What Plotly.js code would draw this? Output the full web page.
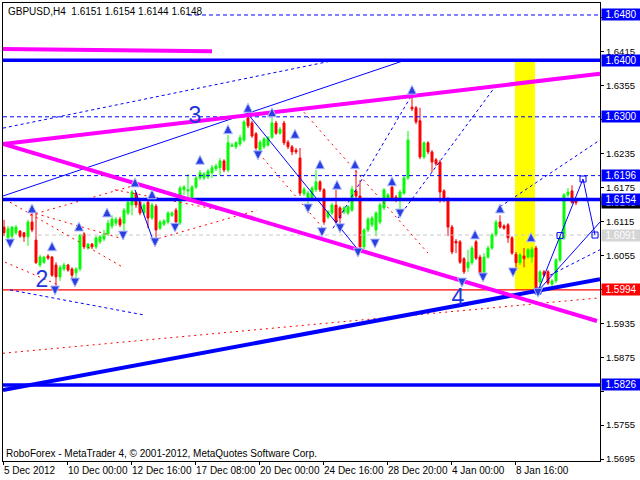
<!DOCTYPE html>
<html>
<head>
<meta charset="utf-8">
<script src="https://cdn.plot.ly/plotly-3.0.1.min.js"></script>
<style>html,body{margin:0;padding:0;background:#fff}#chart{width:640px;height:480px}</style>
</head>
<body>
<div id="chart"></div>
<script>
// GBPUSD H4 bars, oldest first
const barOpen = [
1.6105,1.6086,1.6089,1.6095,1.6098,1.6095,1.6088,1.6114,1.6082,1.6038,
1.6043,1.6054,1.6052,1.6038,1.6017,1.6031,1.6038,1.6031,1.6024,1.6031,
1.6093,1.6068,1.6075,1.6070,1.6079,1.6084,1.6093,1.6107,1.6112,1.6119,
1.6112,1.6130,1.6144,1.6165,1.6149,1.6130,1.6149,1.6121,1.6142,1.6103,
1.6110,1.6114,1.6126,1.6135,1.6112,1.6171,1.6169,1.6158,1.6176,1.6192,
1.6192,1.6194,1.6201,1.6208,1.6210,1.6222,1.6206,1.6248,1.6247,1.6252,
1.6259,1.6298,1.6289,1.6270,1.6241,1.6247,1.6250,1.6264,1.6289,1.6271,
1.6289,1.6255,1.6247,1.6241,1.6227,1.6164,1.6155,1.6156,1.6171,1.6185,
1.6171,1.6123,1.6130,1.6144,1.6139,1.6132,1.6130,1.6135,1.6169,1.6160,
1.6070,1.6100,1.6109,1.6100,1.6114,1.6139,1.6156,1.6176,1.6158,1.6153,
1.6165,1.6192,1.6317,1.6316,1.6293,1.6229,1.6254,1.6238,1.6224,1.6220,
1.6169,1.6155,1.6105,1.6080,1.6079,1.6049,1.6033,1.6042,1.6079,1.6052,
1.6024,1.6052,1.6068,1.6091,1.6114,1.6107,1.6109,1.6086,1.6057,1.6042,
1.6054,1.6052,1.6052,1.6068,1.6008,1.6026,1.6026,1.6004,1.6010,1.6047,
1.6086,1.6162,1.6169,1.6151];
const barHigh = [
1.6118,1.6107,1.6107,1.6109,1.6100,1.6096,1.6118,1.6130,1.6132,1.6056,
1.6054,1.6057,1.6054,1.6043,1.6038,1.6042,1.6040,1.6034,1.6034,1.6093,
1.6096,1.6077,1.6077,1.6089,1.6091,1.6100,1.6118,1.6126,1.6123,1.6123,
1.6139,1.6153,1.6171,1.6167,1.6153,1.6148,1.6156,1.6148,1.6146,1.6118,
1.6119,1.6133,1.6133,1.6139,1.6178,1.6179,1.6199,1.6179,1.6195,1.6206,
1.6202,1.6208,1.6215,1.6217,1.6227,1.6225,1.6268,1.6254,1.6257,1.6268,
1.6294,1.6310,1.6293,1.6273,1.6259,1.6264,1.6266,1.6298,1.6293,1.6282,
1.6293,1.6259,1.6250,1.6245,1.6245,1.6176,1.6169,1.6178,1.6206,1.6188,
1.6174,1.6135,1.6148,1.6171,1.6142,1.6142,1.6144,1.6178,1.6206,1.6188,
1.6103,1.6123,1.6125,1.6133,1.6148,1.6174,1.6165,1.6179,1.6162,1.6171,
1.6195,1.6275,1.6337,1.6319,1.6316,1.6257,1.6257,1.6241,1.6227,1.6224,
1.6172,1.6158,1.6109,1.6084,1.6082,1.6052,1.6065,1.6072,1.6082,1.6056,
1.6059,1.6072,1.6095,1.6118,1.6126,1.6110,1.6112,1.6089,1.6061,1.6059,
1.6068,1.6068,1.6070,1.6072,1.6029,1.6029,1.6029,1.6013,1.6050,1.6089,
1.6165,1.6174,1.6179,1.6154];
const barLow = [
1.6089,1.6080,1.6082,1.6091,1.6086,1.6079,1.6072,1.6096,1.6040,1.6034,
1.6040,1.6047,1.6017,1.5999,1.6010,1.6027,1.6026,1.6015,1.6011,1.6027,
1.6066,1.6065,1.6066,1.6066,1.6075,1.6080,1.6089,1.6102,1.6107,1.6105,
1.6095,1.6126,1.6126,1.6139,1.6126,1.6126,1.6103,1.6118,1.6080,1.6100,
1.6107,1.6110,1.6123,1.6110,1.6109,1.6162,1.6158,1.6155,1.6172,1.6188,
1.6188,1.6190,1.6192,1.6204,1.6197,1.6202,1.6202,1.6247,1.6243,1.6248,
1.6255,1.6280,1.6263,1.6241,1.6238,1.6243,1.6247,1.6261,1.6268,1.6268,
1.6250,1.6243,1.6232,1.6234,1.6160,1.6160,1.6141,1.6153,1.6167,1.6167,
1.6109,1.6119,1.6126,1.6110,1.6109,1.6128,1.6126,1.6132,1.6156,1.6066,
1.6066,1.6096,1.6105,1.6089,1.6110,1.6135,1.6153,1.6153,1.6149,1.6132,
1.6162,1.6188,1.6310,1.6287,1.6225,1.6225,1.6234,1.6202,1.6213,1.6148,
1.6149,1.6089,1.6057,1.6059,1.6040,1.6022,1.6026,1.6038,1.6047,1.6020,
1.6020,1.6049,1.6065,1.6088,1.6102,1.6100,1.6077,1.6056,1.6029,1.6038,
1.6034,1.6049,1.6042,1.5994,1.5994,1.6017,1.6003,1.6001,1.6006,1.6043,
1.6082,1.6158,1.6146,1.6144];
const barClose = [
1.6095,1.6102,1.6105,1.6105,1.6089,1.6088,1.6114,1.6100,1.6042,1.6052,
1.6052,1.6050,1.6020,1.6017,1.6034,1.6038,1.6029,1.6020,1.6031,1.6091,
1.6070,1.6075,1.6070,1.6086,1.6088,1.6093,1.6112,1.6119,1.6119,1.6109,
1.6135,1.6149,1.6167,1.6144,1.6130,1.6144,1.6121,1.6144,1.6100,1.6114,
1.6116,1.6130,1.6130,1.6114,1.6174,1.6176,1.6171,1.6176,1.6192,1.6201,
1.6199,1.6204,1.6210,1.6213,1.6222,1.6206,1.6254,1.6250,1.6254,1.6263,
1.6291,1.6284,1.6266,1.6245,1.6255,1.6261,1.6263,1.6289,1.6271,1.6278,
1.6254,1.6247,1.6238,1.6238,1.6165,1.6172,1.6165,1.6174,1.6185,1.6171,
1.6114,1.6132,1.6144,1.6114,1.6121,1.6139,1.6141,1.6172,1.6160,1.6070,
1.6100,1.6119,1.6121,1.6130,1.6144,1.6171,1.6162,1.6156,1.6153,1.6167,
1.6192,1.6259,1.6314,1.6291,1.6229,1.6254,1.6238,1.6220,1.6217,1.6167,
1.6153,1.6105,1.6061,1.6077,1.6043,1.6026,1.6043,1.6068,1.6050,1.6024,
1.6052,1.6068,1.6091,1.6114,1.6105,1.6103,1.6086,1.6059,1.6042,1.6056,
1.6049,1.6065,1.6066,1.5997,1.6026,1.6020,1.6006,1.6010,1.6047,1.6086,
1.6162,1.6167,1.6149,1.6148];

// time axis: one label every 16 bars
const timeTickBars = [-0.25, 15.75, 31.75, 47.75, 63.75, 79.75, 95.75, 111.75, 127.75];
const timeTickText = ['5 Dec 2012','10 Dec 00:00','12 Dec 16:00','17 Dec 08:00','20 Dec 00:00',
                      '24 Dec 16:00','28 Dec 20:00','4 Jan 00:00','8 Jan 16:00'];
const priceTicks = [1.5695,1.5755,1.5815,1.5875,1.5935,1.5995,1.6055,1.6115,1.6175,1.6235,1.6295,1.6355,1.6415,1.6475];

// horizontal levels
const thickLevels = [1.6400, 1.6154, 1.5826];
const dashedLevels = [1.6300, 1.6196];
const topLevel = 1.6480;
const greyLevel = 1.6091;
const redLevel = 1.5994;

// trend lines [bar0, price0, bar1, price1]
const magentaLines = [
  [-0.25, 1.6252, 149, 1.6376],
  [-0.25, 1.6252, 148.25, 1.5939],
  [-0.25, 1.6420, 52, 1.6416]];
const blueThickLines = [[-0.25, 1.5817, 149, 1.6013]];
const blueThinLines = [
  [-0.25, 1.6160, 100.25, 1.6400],
  [60.75, 1.6307, 88.5, 1.6065],
  [32.75, 1.6171, 37.25, 1.6082],
  [133.5, 1.5992, 149, 1.6114]];
const blueDashLines = [
  [-0.25, 1.6280, 82.75, 1.6400],
  [82.25, 1.6103, 102, 1.6339],
  [98.5, 1.6121, 122.75, 1.6353],
  [124, 1.6141, 149, 1.6259],
  [136.5, 1.6020, 149, 1.6065],
  [1.5, 1.5994, 34.75, 1.5950]];
const redDashLines = [
  [-0.25, 1.5882, 149, 1.5980],
  [1.5, 1.6149, 29.75, 1.6034],
  [6.5, 1.6132, 30.75, 1.6082],
  [0.25, 1.6043, 13.5, 1.6003],
  [6.5, 1.6126, 32.75, 1.6179],
  [37.25, 1.6082, 63.25, 1.6135],
  [27.75, 1.6171, 62.75, 1.6123],
  [74, 1.6316, 106, 1.6059],
  [64.75, 1.6227, 79.75, 1.6103]];

// projected wave path
const waveBars = [133.5, 139, 144.75, 147.75];
const wavePrices = [1.5992, 1.6090, 1.6190, 1.6091];

// fractal arrows
const upBars = [7,12,18.75,25.75,32.75,37,49,56,61,67,72.75,79,83.25,87.75,97,102,117.75,124,131.75];
const upPrices = [1.6146,1.6079,1.6114,1.6139,1.6192,1.6171,1.6232,1.6286,1.6324,1.6316,1.6278,1.6224,1.6188,1.6224,1.6194,1.6356,1.6100,1.6146,1.6095];
const downBars = [1.5,12.75,17.75,29.75,37.75,42.75,63.5,76,79.5,84,88.5,92.75,99,114.5,119.75,127.25,133.5];
const downPrices = [1.6068,1.5985,1.5999,1.6082,1.6070,1.6096,1.6224,1.6130,1.6088,1.6095,1.6052,1.6068,1.6121,1.5999,1.6008,1.6017,1.5981];

// wave labels
const waveLabels = ['3', '2', '4'];
const waveLabelBars = [47.75, 9.5, 113.5];
const waveLabelPrices = [1.6300, 1.6010, 1.5978];

// highlighted zone
const zoneBars = [127.75, 132.75];
const zonePrices = [1.5994, 1.6400];

const xMin = -0.25, xMax = 149;
const BLUE = '#0000ff', MAGENTA = '#ff00ff', RED = '#ff0000';
const FONT = 'Liberation Sans, Arial, sans-serif';

const traces = [];
traces.push({
  type: 'candlestick',
  x: barOpen.map((_, i) => i),
  open: barOpen, high: barHigh, low: barLow, close: barClose,
  increasing: {line: {color: '#00ff00', width: 1}, fillcolor: '#00ff00'},
  decreasing: {line: {color: '#ff0000', width: 1}, fillcolor: '#ff0000'},
  whiskerwidth: 0,
  hoverinfo: 'skip'
});

function seg(list, color, width, dash) {
  list.forEach(s => traces.push({
    type: 'scatter', mode: 'lines', x: [s[0], s[2]], y: [s[1], s[3]],
    line: {color: color, width: width, dash: dash || 'solid'}, hoverinfo: 'skip'
  }));
}
function level(y, color, width, dash, x0) {
  traces.push({type: 'scatter', mode: 'lines', x: [x0 === undefined ? xMin : x0, xMax], y: [y, y],
    line: {color: color, width: width, dash: dash || 'solid'}, hoverinfo: 'skip'});
}

level(greyLevel, '#c8c8c8', 1, '4px,3px', 8.5);
level(topLevel, BLUE, 1, '4px,3px', 46);
dashedLevels.forEach(v => level(v, BLUE, 1, '4px,3px'));
level(redLevel, RED, 1.2);
seg(redDashLines, RED, 1, '2px,4px');
seg(blueDashLines, BLUE, 1, '3px,3px');
seg(blueThinLines, BLUE, 1);
traces.push({type: 'scatter', mode: 'lines+markers', x: waveBars, y: wavePrices,
  line: {color: BLUE, width: 1}, marker: {symbol: 'square-open', size: 6, color: BLUE, line: {width: 1}},
  hoverinfo: 'skip'});
thickLevels.forEach(v => level(v, BLUE, 3.5));
seg(blueThickLines, BLUE, 4);
seg(magentaLines, MAGENTA, 4);

traces.push({type: 'scatter', mode: 'markers', x: upBars, y: upPrices,
  marker: {symbol: 'arrow-up', size: 9, color: '#2a3fe0', line: {color: '#b4c0ff', width: 1}},
  hoverinfo: 'skip'});
traces.push({type: 'scatter', mode: 'markers', x: downBars, y: downPrices,
  marker: {symbol: 'arrow-down', size: 9, color: '#2a3fe0', line: {color: '#b4c0ff', width: 1}},
  hoverinfo: 'skip'});
traces.push({type: 'scatter', mode: 'text', x: waveLabelBars, y: waveLabelPrices, text: waveLabels,
  textfont: {family: FONT, size: 23, color: '#1f35d8'}, textposition: 'middle center', hoverinfo: 'skip'});

// price tags on the right edge
const tags = [
  [1.6148, '#000000', '#ffffff'],
  [1.6480, BLUE, '#ffffff'],
  [1.6400, BLUE, '#ffffff'],
  [1.6300, BLUE, '#ffffff'],
  [1.6196, BLUE, '#ffffff'],
  [1.6154, BLUE, '#ffffff'],
  [1.6091, '#d4d4d4', '#ffffff'],
  [1.5994, RED, '#ffffff'],
  [1.5826, BLUE, '#ffffff']];
// tick labels that sit underneath a price tag are left blank
const hiddenTicks = [1.6475, 1.6295, 1.5995, 1.5815];

const annotations = tags.map(t => ({
  xref: 'paper', yref: 'y', x: 1, y: t[0], xanchor: 'left', yanchor: 'middle', xshift: 1,
  text: t[0].toFixed(4), showarrow: false, bgcolor: t[1], borderpad: 1, width: 36, height: 9,
  font: {family: FONT, size: 10, color: t[2]}
}));
timeTickBars.forEach((b, i) => annotations.push({
  xref: 'x', yref: 'paper', x: b, y: 0, xanchor: 'left', yanchor: 'top', yshift: -2, xshift: -1,
  text: timeTickText[i], showarrow: false, font: {family: FONT, size: 10, color: '#000'}
}));
annotations.push({xref: 'paper', yref: 'paper', x: 0, y: 1, xanchor: 'left', yanchor: 'top',
  xshift: 3, yshift: -1, showarrow: false, text: 'GBPUSD,H4  1.6151 1.6154 1.6144 1.6148',
  font: {family: FONT, size: 10, color: '#000'}});
annotations.push({xref: 'paper', yref: 'paper', x: 0, y: 0, xanchor: 'left', yanchor: 'bottom',
  xshift: 1, yshift: 0, showarrow: false,
  text: 'RoboForex - MetaTrader 4, © 2001-2012, MetaQuotes Software Corp.',
  font: {family: FONT, size: 10, color: '#000'}});

const layout = {
  width: 640, height: 480,
  margin: {l: 3, r: 40, t: 3, b: 19, pad: 0},
  paper_bgcolor: '#ffffff', plot_bgcolor: '#ffffff',
  showlegend: false, hovermode: false,
  font: {family: FONT, size: 10, color: '#000'},
  xaxis: {
    range: [xMin, xMax], showgrid: false, zeroline: false,
    showline: true, linecolor: '#000', linewidth: 1, mirror: true,
    ticks: 'outside', ticklen: 3, tickcolor: '#000',
    tickvals: timeTickBars, showticklabels: false,
    rangeslider: {visible: false}, fixedrange: true
  },
  yaxis: {
    side: 'right', range: [1.56915, 1.65012], showgrid: false, zeroline: false,
    showline: true, linecolor: '#000', linewidth: 1, mirror: true,
    ticks: 'outside', ticklen: 3, tickcolor: '#000',
    tickvals: priceTicks,
    ticktext: priceTicks.map(v => hiddenTicks.includes(v) ? '' : v.toFixed(4)),
    tickfont: {family: FONT, size: 9.5, color: '#000'}, fixedrange: true
  },
  shapes: [{type: 'rect', xref: 'x', yref: 'y', layer: 'below',
    x0: zoneBars[0], x1: zoneBars[1], y0: zonePrices[0], y1: zonePrices[1],
    fillcolor: '#ffff00', line: {width: 0}}],
  annotations: annotations
};

Plotly.newPlot('chart', traces, layout, {displayModeBar: false, staticPlot: true});
</script>
</body>
</html>
